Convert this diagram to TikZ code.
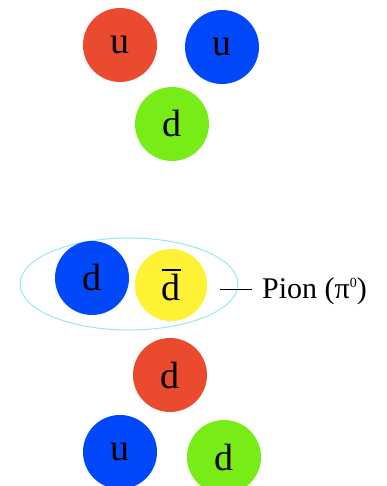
\documentclass[tikz,border=0pt]{standalone}
\usepackage{fontspec}
\setmainfont{Liberation Serif}
\usetikzlibrary{shapes.geometric}
\definecolor{qred}{RGB}{234,74,46}
\definecolor{qblue}{RGB}{0,72,250}
\definecolor{qgreen}{RGB}{120,236,22}
\definecolor{qyellow}{RGB}{255,242,52}
\definecolor{qcyan}{RGB}{150,232,242}
\begin{document}
\begin{tikzpicture}[x=1pt,y=-1pt,
  quark/.style={circle,minimum size=74pt,inner sep=0pt,font=\fontsize{38}{38}\selectfont},
  plabel/.style={font=\fontsize{30}{30}\selectfont,anchor=base west,inner sep=0pt}]
\useasboundingbox (0,0) rectangle (386,486);
% proton
\node[quark,fill=qred] (u1) at (120,45) {u};
\node[quark,fill=qblue] (u2) at (222,47) {u};
\node[quark,fill=qgreen] (d1) at (172,124) {d};
% pion
\node[ellipse,draw=qcyan,line width=1pt,minimum width=218pt,minimum height=92pt] (pi) at (129,284) {};
\node[quark,fill=qblue] (d2) at (92,278) {d};
\node[quark,fill=qyellow,minimum size=72pt] (db) at (171,285) {\vbox{\hrule height 1.8pt\kern 2.5pt\hbox{d}}};
\coordinate (ls) at (220,289);
\coordinate (le) at (252,289);
\node[plabel] (pl) at (262,298) {Pion (π\raisebox{11pt}{\fontsize{14}{14}\selectfont 0})};
\draw[line width=1pt] (ls) -- (le);
% neutron
\node[quark,fill=qred] (d3) at (170,375) {d};
\node[quark,fill=qblue] (u3) at (120,452) {u};
\node[quark,fill=qgreen] (d4) at (224,457) {d};
\end{tikzpicture}
\end{document}
